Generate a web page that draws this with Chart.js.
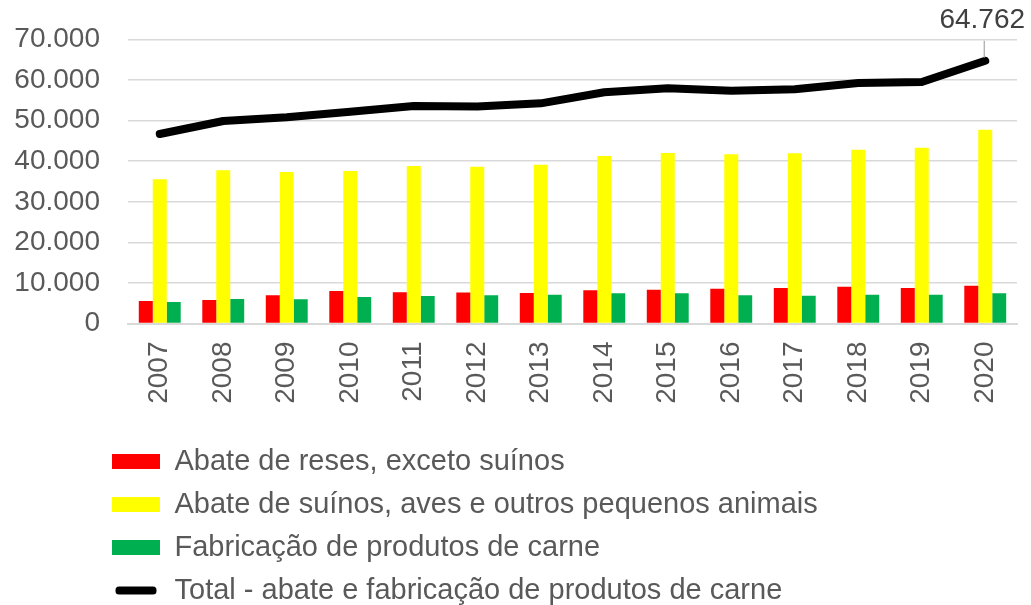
<!DOCTYPE html>
<html>
<head>
<meta charset="utf-8">
<script src="https://cdn.jsdelivr.net/npm/chart.js@4/dist/chart.umd.min.js"></script>
<style>
html,body{margin:0;padding:0;background:#fff;}
#wrap{width:1031px;height:605px;}
</style>
</head>
<body>
<div id="wrap"><canvas id="c" width="1031" height="605"></canvas></div>
<script>
const years = ['2007','2008','2009','2010','2011','2012','2013','2014','2015','2016','2017','2018','2019','2020'];
const abateReses = [5550, 5790, 6950, 8010, 7690, 7650, 7520, 8180, 8340, 8580, 8750, 9070, 8750, 9320];
const abateSuinos = [35550, 37760, 37340, 37590, 38820, 38660, 39150, 41290, 42030, 41700, 41950, 42850, 43340, 47780];
const fabricacao = [5300, 6040, 5960, 6530, 6780, 6950, 7100, 7440, 7440, 6950, 6850, 7100, 7100, 7440];
const total = [46710, 49920, 50830, 52210, 53610, 53500, 54270, 56990, 57970, 57390, 57720, 59280, 59530, 64762];
const seriesNames = ['Abate de reses, exceto suínos', 'Abate de suínos, aves e outros pequenos animais', 'Fabricação de produtos de carne', 'Total - abate e fabricação de produtos de carne'];
const yTicks = [0, 10000, 20000, 30000, 40000, 50000, 60000, 70000];

function fmt(v){ return String(Math.round(v)).replace(/\B(?=(\d{3})+(?!\d))/g, '.'); }

const FONT = 'Liberation Sans, Arial, sans-serif';
const TXT = '#595959';

const legendPos = {
  id: 'legendPos',
  afterLayout(chart){
    const l = chart.legend;
    if (l) { l.top += 10; l.left = 98; }
  }
};

const lastLabel = {
  id: 'lastLabel',
  afterDatasetsDraw(chart){
    const meta = chart.getDatasetMeta(3);
    const i = total.length - 1;
    const pt = meta.data[i];
    const ctx = chart.ctx;
    ctx.save();
    ctx.strokeStyle = '#a6a6a6';
    ctx.lineWidth = 1.2;
    ctx.beginPath();
    ctx.moveTo(pt.x - 1, pt.y - 3);
    ctx.lineTo(pt.x - 1, pt.y - 20);
    ctx.stroke();
    ctx.fillStyle = '#404040';
    ctx.font = '28px ' + FONT;
    ctx.textAlign = 'center';
    ctx.textBaseline = 'alphabetic';
    ctx.fillText(fmt(total[i]), pt.x - 3, pt.y - 33);
    ctx.restore();
  }
};

new Chart(document.getElementById('c'), {
  data: {
    labels: years,
    datasets: [
      { type: 'bar', label: seriesNames[0], data: abateReses, backgroundColor: '#FF0000', borderWidth: 0, categoryPercentage: 0.66, barPercentage: 1 },
      { type: 'bar', label: seriesNames[1], data: abateSuinos, backgroundColor: '#FFFF00', borderWidth: 0, categoryPercentage: 0.66, barPercentage: 1 },
      { type: 'bar', label: seriesNames[2], data: fabricacao, backgroundColor: '#00B050', borderWidth: 0, categoryPercentage: 0.66, barPercentage: 1 },
      { type: 'line', label: seriesNames[3], data: total, borderColor: '#000000', backgroundColor: '#000000', borderWidth: 8, pointRadius: 0, tension: 0, borderCapStyle: 'round', borderJoinStyle: 'round' }
    ]
  },
  options: {
    responsive: false,
    animation: false,
    devicePixelRatio: 1,
    layout: { padding: { left: 0, right: 14, top: 39.5, bottom: 0 } },
    scales: {
      x: {
        grid: { display: false, drawTicks: false },
        border: { display: true, color: '#d9d9d9', width: 2 },
        ticks: { autoSkip: false, minRotation: 90, maxRotation: 90, padding: 18, color: TXT, font: { family: FONT, size: 28 } },
        afterFit(scale){ scale.height = 99.5; scale.paddingLeft = 0; scale.paddingRight = 0; }
      },
      y: {
        min: 0, max: 70000,
        afterBuildTicks(scale){ scale.ticks = yTicks.map(v => ({ value: v })); },
        grid: { color: '#d9d9d9', lineWidth: 1.5, drawTicks: false },
        border: { display: false },
        ticks: { padding: 28, color: TXT, font: { family: FONT, size: 28 }, callback: v => fmt(v) },
        afterFit(scale){ scale.width = 128; scale.paddingTop = 0; scale.paddingBottom = 0; }
      }
    },
    plugins: {
      tooltip: { enabled: false },
      legend: {
        position: 'bottom',
        align: 'start',
        labels: {
          boxWidth: 48,
          boxHeight: 15,
          padding: 14,
          color: TXT,
          font: { family: FONT, size: 29 },
          generateLabels(chart){
            const items = Chart.defaults.plugins.legend.labels.generateLabels(chart);
            items.forEach((it, idx) => {
              if (idx < 3) { it.lineWidth = 0; it.strokeStyle = it.fillStyle; }
              else { it.fillStyle = '#000'; it.strokeStyle = '#fff'; it.lineWidth = 7; it.borderRadius = 7; }
            });
            return items;
          }
        }
      }
    }
  },
  plugins: [legendPos, lastLabel]
});
</script>
</body>
</html>
